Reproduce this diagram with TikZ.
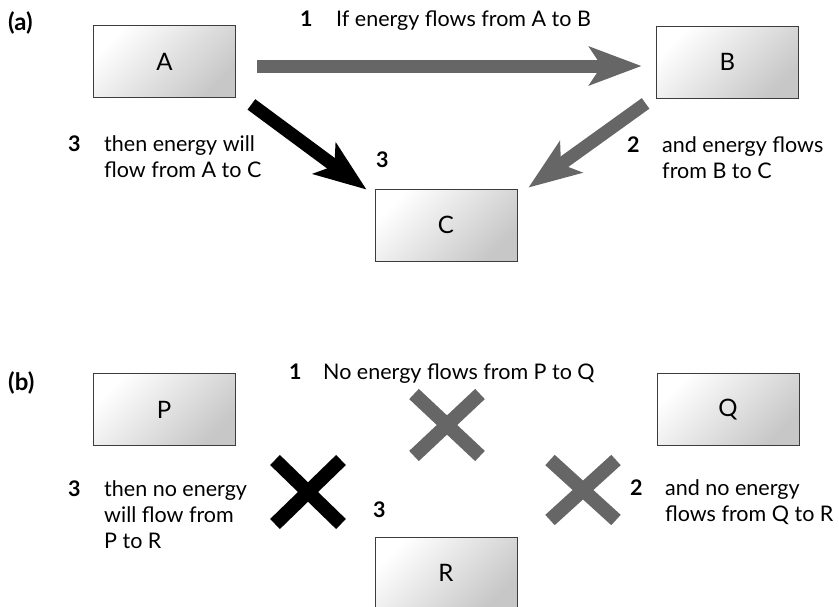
\documentclass[tikz,border=0pt]{standalone}
\usepackage{fontspec}
\setmainfont{Lato}
\usetikzlibrary{arrows.meta}
\definecolor{arrgray}{RGB}{102,102,102}
\definecolor{boxline}{RGB}{60,60,60}
\begin{document}
\begin{tikzpicture}[x=1pt,y=-1pt,
  box/.style={draw=boxline, line width=0.8pt, minimum width=142pt, minimum height=72pt,
    inner sep=0pt, top color=white, bottom color=black!22, shading angle=45,
    font=\fontsize{24}{28}\selectfont},
  lbl/.style={anchor=base west, inner sep=0pt, font=\fontsize{21.5}{26}\selectfont},
  num/.style={anchor=base west, inner sep=0pt, font=\bfseries\fontsize{21.5}{26}\selectfont},
  part/.style={anchor=base west, inner sep=0pt, font=\bfseries\fontsize{24}{26}\selectfont},
  bigarrow/.style={line width=13pt, -{Stealth[length=52pt,width=38pt,inset=12pt]}},
  crossline/.style={line width=14pt}
]
\useasboundingbox (0,0) rectangle (839,606);
\clip (0,0) rectangle (839,606);

% ---------- (a) ----------
\node[part] (la) at (8,30) {(a)};
\node[box] (A) at (164.5,61.5) {A};
\node[box] (B) at (727.5,62) {B};
\node[box] (C) at (446,225) {C};

\coordinate (a1s) at ([shift={(21.5,4.5)}]A.east);
\coordinate (a1e) at ([shift={(-14.5,4)}]B.west);
\draw[bigarrow, arrgray] (a1s) -- (a1e);

\coordinate (a2s) at ([shift={(-10.5,5)}]B.south west);
\coordinate (a2e) at ([shift={(11,-1)}]C.north east);
\draw[bigarrow, arrgray] (a2s) -- (a2e);

\coordinate (a3s) at ([shift={(15.5,6.5)}]A.south east);
\coordinate (a3e) at ([shift={(-8,1)}]C.north west);
\draw[bigarrow, black] (a3s) -- (a3e);

\node[num] (n1a) at (300,26) {1};
\node[lbl] (t1a) at (336,26) {If energy flows from A to B};
\node[num] (n3a) at (68,151) {3};
\node[lbl] (t3a) at (104,151) {\vtop{\hbox{then energy will}\hbox{flow from A to C}}};
\node[num] (n3c) at (376,167) {3};
\node[num] (n2a) at (627,152) {2};
\node[lbl] (t2a) at (662,152) {\vtop{\hbox{and energy flows}\hbox{from B to C}}};

% ---------- (b) ----------
\node[part] (lb) at (8,390) {(b)};
\node[box] (P) at (164,409.5) {P};
\node[box] (Q) at (728,409.5) {Q};
\node[box] (R) at (446,573) {R};

\coordinate (x1) at (447,425);
\draw[crossline, arrgray] ([shift={(-33,-31)}]x1) -- ([shift={(33,31)}]x1);
\draw[crossline, arrgray] ([shift={(-33,31)}]x1) -- ([shift={(33,-31)}]x1);

\coordinate (x2) at (583,490);
\draw[crossline, arrgray] ([shift={(-33,-30)}]x2) -- ([shift={(33,30)}]x2);
\draw[crossline, arrgray] ([shift={(-33,30)}]x2) -- ([shift={(33,-30)}]x2);

\coordinate (x3) at (308,492);
\draw[crossline, black] ([shift={(-33,-32)}]x3) -- ([shift={(33,32)}]x3);
\draw[crossline, black] ([shift={(-33,32)}]x3) -- ([shift={(33,-32)}]x3);

\node[num] (n1b) at (289,379) {1};
\node[lbl] (t1b) at (323,379) {No energy flows from P to Q};
\node[num] (n3b) at (68,496) {3};
\node[lbl] (t3b) at (104,496) {\vtop{\hbox{then no energy}\hbox{will flow from}\hbox{P to R}}};
\node[num] (n3r) at (373,517) {3};
\node[num] (n2b) at (630,495) {2};
\node[lbl] (t2b) at (665,495) {\vtop{\hbox{and no energy}\hbox{flows from Q to R}}};
\end{tikzpicture}
\end{document}
